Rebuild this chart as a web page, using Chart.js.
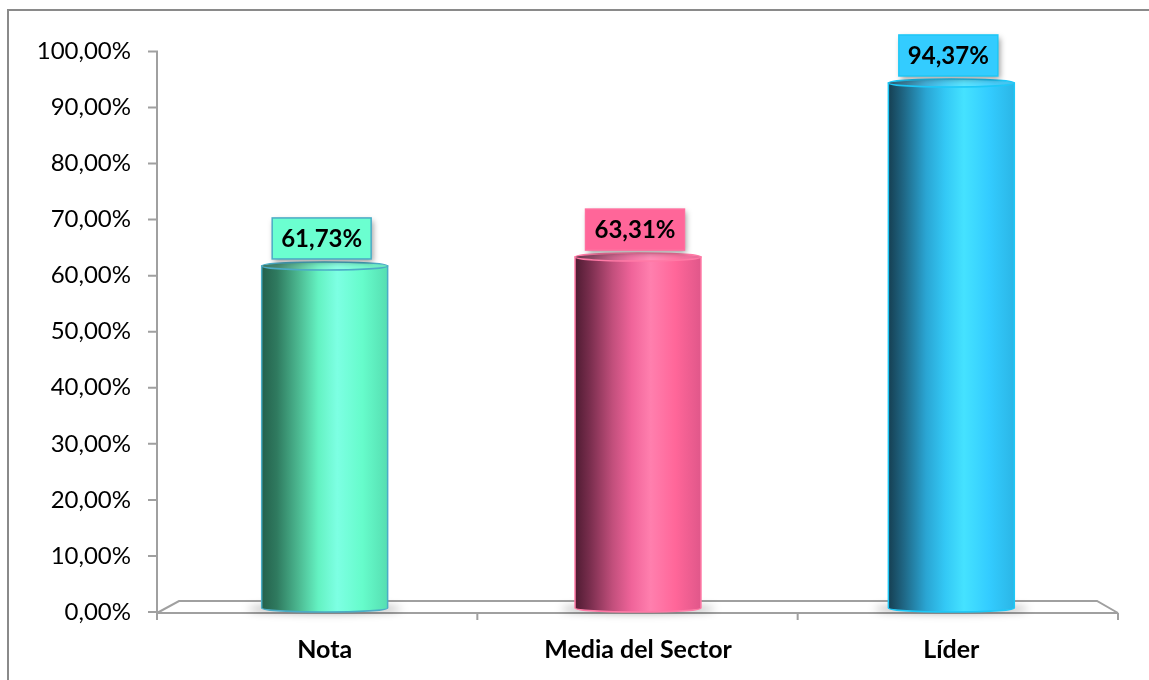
<!DOCTYPE html>
<html>
<head>
<meta charset="utf-8">
<script src="https://cdn.jsdelivr.net/npm/chart.js@4.4.1/dist/chart.umd.min.js"></script>
<style>
  html, body { margin: 0; padding: 0; background: #fff; }
  #wrap { position: relative; width: 1149px; height: 680px; }
</style>
</head>
<body>
<div id="wrap"><canvas id="myChart" width="1149" height="680"></canvas></div>
<script>
// categories and values
const categories = ['Nota', 'Media del Sector', 'Líder'];
const values = [61.73, 63.31, 94.37];
const yMin = 0;
const yMax = 100;
const yStep = 10;

// cylinder colours, one row per bar
const bodyStops = [
  [[0, '#24614c'], [0.12, '#2f7a5f'], [0.3, '#4dbb93'], [0.45, '#64f2c2'], [0.6, '#7dffe3'], [0.8, '#66fccb'], [1, '#56deb1']],
  [[0, '#4f1b32'], [0.12, '#7a2e4e'], [0.3, '#c24f7c'], [0.45, '#f0649a'], [0.6, '#ff7fae'], [0.8, '#ff6699'], [1, '#e0578a']],
  [[0, '#163f52'], [0.12, '#1f6684'], [0.3, '#2aa5d3'], [0.45, '#33c8f5'], [0.6, '#45e2ff'], [0.8, '#33ccff'], [1, '#2bb6e6']],
];
const edgeColors = ['#4bacc6', '#ff7aa6', '#1ec8f7'];
const boxFill = ['#6bffd0', '#ff6699', '#33ccff'];
const boxEdge = ['#4bacc6', '#ff6f9f', '#1ec8f7'];

const floorDepth = 11;
const axisGrey = '#a0a0a0';

const fmt = v => v.toFixed(2).replace('.', ',') + '%';

function gradientFor(ctx, x0, x1, stops) {
  const g = ctx.createLinearGradient(x0, 0, x1, 0);
  stops.forEach(s => g.addColorStop(s[0], s[1]));
  return g;
}

// outer frame, 3D floor and the y axis line
const floorPlugin = {
  id: 'floor',
  beforeDraw(chart) {
    const ctx = chart.ctx;
    ctx.save();
    ctx.strokeStyle = '#8a8a8a';
    ctx.lineWidth = 2;
    ctx.beginPath();
    ctx.moveTo(8, chart.height);
    ctx.lineTo(8, 10);
    ctx.lineTo(chart.width, 10);
    ctx.stroke();
    ctx.restore();
  },
  beforeDatasetsDraw(chart) {
    const { ctx, chartArea: a, scales: { y } } = chart;
    const y0 = y.getPixelForValue(yMin);
    const frontY = y0 + 1;
    const backY = y0 - floorDepth;
    const fl = a.left - floorDepth, fr = a.right + floorDepth - 1;
    const bl = a.left + floorDepth, br = a.right - floorDepth;
    ctx.save();
    ctx.strokeStyle = axisGrey;
    ctx.lineWidth = 2;
    ctx.beginPath();
    ctx.moveTo(fl, frontY);
    ctx.lineTo(fr, frontY);
    ctx.moveTo(fl, frontY);
    ctx.lineTo(bl, backY);
    ctx.lineTo(br, backY);
    ctx.lineTo(fr, frontY);
    // y axis
    ctx.moveTo(fl, y.getPixelForValue(yMax) - 1);
    ctx.lineTo(fl, frontY + 7);
    y.ticks.forEach(t => {
      const py = y.getPixelForValue(t.value);
      ctx.moveTo(fl - 9, py);
      ctx.lineTo(fl, py);
    });
    // category dividers on the front edge
    const n = categories.length;
    for (let i = 1; i <= n; i++) {
      const px = fl + (fr - fl) * i / n;
      ctx.moveTo(px, frontY);
      ctx.lineTo(px, frontY + 7);
    }
    ctx.stroke();
    ctx.restore();
  }
};

// cylinders plus value boxes
const cylinderPlugin = {
  id: 'cylinders',
  afterDatasetsDraw(chart) {
    const ctx = chart.ctx;
    const meta = chart.getDatasetMeta(0);
    meta.data.forEach((bar, i) => {
      const { x, y, width, base } = bar.getProps(['x', 'y', 'width', 'base'], true);
      const rx = width / 2;
      const ry = 4;
      const l = x - rx, r = x + rx;
      const grad = gradientFor(ctx, l, r, bodyStops[i]);

      // soft shadow on the floor
      ctx.save();
      ctx.filter = 'blur(4px)';
      ctx.fillStyle = 'rgba(0,0,0,0.35)';
      ctx.beginPath();
      ctx.ellipse(x, base - 3, rx + 14, 4, 0, 0, Math.PI * 2);
      ctx.fill();
      ctx.restore();

      // body
      ctx.save();
      ctx.beginPath();
      ctx.moveTo(l, y);
      ctx.lineTo(r, y);
      ctx.lineTo(r, base - ry);
      ctx.ellipse(x, base - ry, rx, ry, 0, 0, Math.PI);
      ctx.closePath();
      ctx.fillStyle = grad;
      ctx.fill();
      ctx.strokeStyle = edgeColors[i];
      ctx.lineWidth = 1.5;
      ctx.stroke();

      // top cap
      ctx.beginPath();
      ctx.ellipse(x, y, rx, ry, 0, 0, Math.PI * 2);
      ctx.fillStyle = grad;
      ctx.fill();
      ctx.fillStyle = 'rgba(255,255,255,0.12)';
      ctx.fill();
      ctx.stroke();
      ctx.restore();

      // value box
      const text = fmt(values[i]);
      ctx.save();
      ctx.font = 'bold 24px Lato';
      const tw = ctx.measureText(text).width;
      const bw = tw + 18, bh = 41;
      const bx = x - bw / 2 - 3, by = y - ry - 3 - bh;
      ctx.shadowColor = 'rgba(0,0,0,0.4)';
      ctx.shadowBlur = 6;
      ctx.shadowOffsetX = 2;
      ctx.shadowOffsetY = 3;
      ctx.fillStyle = boxFill[i];
      ctx.fillRect(bx, by, bw, bh);
      ctx.shadowColor = 'transparent';
      ctx.strokeStyle = boxEdge[i];
      ctx.lineWidth = 1.5;
      ctx.strokeRect(bx, by, bw, bh);
      ctx.fillStyle = '#000';
      ctx.textAlign = 'center';
      ctx.textBaseline = 'middle';
      ctx.fillText(text, bx + bw / 2, by + bh / 2 + 1);
      ctx.restore();
    });
  }
};

const ctx = document.getElementById('myChart').getContext('2d');
new Chart(ctx, {
  type: 'bar',
  data: {
    labels: categories,
    datasets: [{
      data: values,
      backgroundColor: 'rgba(0,0,0,0)',
      borderWidth: 0,
      barPercentage: 0.402,
      categoryPercentage: 1,
    }],
  },
  options: {
    responsive: false,
    animation: false,
    layout: { padding: { left: 0, right: 41, top: 49, bottom: 0 } },
    scales: {
      x: {
        type: 'category',
        grid: { display: false, drawTicks: false },
        border: { display: false },
        ticks: {
          color: '#000',
          padding: 23,
          font: { family: 'Lato', size: 25, weight: 'bold' },
          maxRotation: 0,
        },
        afterFit: s => { s.height = 68; },
      },
      y: {
        min: yMin,
        max: yMax,
        grid: { display: false, drawTicks: false },
        border: { display: false },
        ticks: {
          stepSize: yStep,
          color: '#000',
          padding: 37,
          font: { family: 'Lato', size: 24 },
          callback: v => fmt(v),
        },
        afterFit: s => { s.width = 168; },
      },
    },
    plugins: {
      legend: { display: false },
      tooltip: { enabled: false },
    },
  },
  plugins: [floorPlugin, cylinderPlugin],
});
</script>
</body>
</html>
